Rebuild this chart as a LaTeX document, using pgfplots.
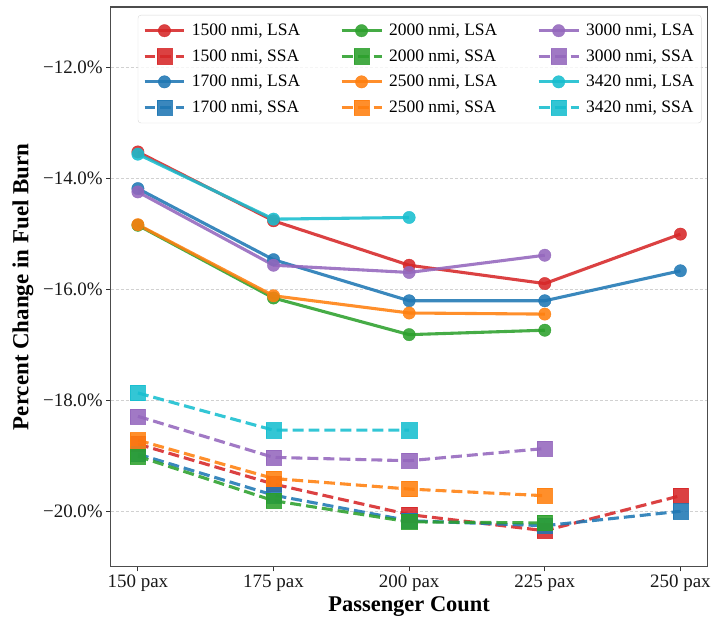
\documentclass[border=0pt]{standalone}
\usepackage{fontspec}
\setmainfont{Liberation Serif}
\usepackage{pgfplots}
\pgfplotsset{compat=1.18}

\definecolor{tred}{HTML}{D62728}
\definecolor{tblue}{HTML}{1F77B4}
\definecolor{tgreen}{HTML}{2CA02C}
\definecolor{torange}{HTML}{FF7F0E}
\definecolor{tpurple}{HTML}{9467BD}
\definecolor{tcyan}{HTML}{17BECF}

\pgfplotsset{
  lsa/.style={line width=3.1pt, opacity=0.88, mark=*, mark size=6.2pt,
    mark options={solid, line width=0.4pt}},
  ssa/.style={line width=3.1pt, opacity=0.88, dash pattern=on 11pt off 5pt,
    mark=square*, mark size=7.6pt, mark options={solid, line width=0.4pt}},
}

\begin{document}
\begin{tikzpicture}
\begin{axis}[
  name=ax,
  scale only axis,
  width=598pt, height=561pt,
  xmin=-0.2, xmax=4.2,
  ymin=-21.0, ymax=-10.92,
  xtick={0,1,2,3,4},
  xticklabels={150 pax,175 pax,200 pax,225 pax,250 pax},
  ytick={-20,-18,-16,-14,-12},
  yticklabels={−20.0\%,−18.0\%,−16.0\%,−14.0\%,−12.0\%},
  tick label style={font=\fontsize{19}{22}\selectfont, black!90},
  tick align=outside,
  xtick pos=left, ytick pos=left,
  major tick length=4.5pt,
  tick style={black!80, line width=0.9pt},
  axis line style={black!70, line width=1.2pt},
  ymajorgrids,
  major grid style={dash pattern=on 3pt off 2pt, black!18, line width=0.7pt},
  xlabel={Passenger Count},
  ylabel={Percent Change in Fuel Burn},
  every axis x label/.style={at={(rel axis cs:0.5,0)}, yshift=-40pt, anchor=center,
    font=\bfseries\fontsize{22.5}{26}\selectfont},
  every axis y label/.style={at={(rel axis cs:0,0.5)}, xshift=-88pt, rotate=90, anchor=center,
    font=\bfseries\fontsize{23}{26}\selectfont},
  legend columns=3,
  legend cell align=left,
  legend image code/.code={%
    \draw[mark repeat=2, mark phase=2] plot coordinates {(0pt,0pt) (20pt,0pt) (40pt,0pt)};},
  legend style={
    at={(rel axis cs:1,1)}, anchor=north east, xshift=-6pt, yshift=-8pt,
    draw=black!15, rounded corners=3pt, fill=white, fill opacity=0.8, text opacity=1,
    font=\fontsize{17.5}{20}\selectfont,
    inner xsep=5pt, inner ysep=7pt,
    row sep=8.5pt,
    /tikz/every odd column/.append style={column sep=4pt},
    /tikz/every even column/.append style={column sep=38pt},
  },
]
% LSA = solid lines with circles, SSA = dashed lines with squares
\addplot[tred, lsa, forget plot] coordinates {(0,-13.53) (1,-14.77) (2,-15.57) (3,-15.90) (4,-15.01)};
\addplot[tred, ssa, forget plot] coordinates {(0,-18.79) (1,-19.51) (2,-20.06) (3,-20.35) (4,-19.72)};
\addplot[tblue, lsa, forget plot] coordinates {(0,-14.19) (1,-15.47) (2,-16.21) (3,-16.21) (4,-15.67)};
\addplot[tblue, ssa, forget plot] coordinates {(0,-18.97) (1,-19.71) (2,-20.17) (3,-20.26) (4,-20.00)};
\addplot[tgreen, lsa, forget plot] coordinates {(0,-14.85) (1,-16.16) (2,-16.82) (3,-16.74)};
\addplot[tgreen, ssa, forget plot] coordinates {(0,-19.01) (1,-19.81) (2,-20.19) (3,-20.21)};
\addplot[torange, lsa, forget plot] coordinates {(0,-14.84) (1,-16.12) (2,-16.43) (3,-16.45)};
\addplot[torange, ssa, forget plot] coordinates {(0,-18.72) (1,-19.41) (2,-19.60) (3,-19.72)};
\addplot[tpurple, lsa, forget plot] coordinates {(0,-14.25) (1,-15.57) (2,-15.70) (3,-15.39)};
\addplot[tpurple, ssa, forget plot] coordinates {(0,-18.29) (1,-19.03) (2,-19.09) (3,-18.87)};
\addplot[tcyan, lsa, forget plot] coordinates {(0,-13.57) (1,-14.74) (2,-14.71)};
\addplot[tcyan, ssa, forget plot] coordinates {(0,-17.87) (1,-18.54) (2,-18.54)};

% legend, filled row by row
\addlegendimage{tred, lsa}\addlegendentry{1500 nmi, LSA}
\addlegendimage{tgreen, lsa}\addlegendentry{2000 nmi, LSA}
\addlegendimage{tpurple, lsa}\addlegendentry{3000 nmi, LSA}
\addlegendimage{tred, ssa}\addlegendentry{1500 nmi, SSA}
\addlegendimage{tgreen, ssa}\addlegendentry{2000 nmi, SSA}
\addlegendimage{tpurple, ssa}\addlegendentry{3000 nmi, SSA}
\addlegendimage{tblue, lsa}\addlegendentry{1700 nmi, LSA}
\addlegendimage{torange, lsa}\addlegendentry{2500 nmi, LSA}
\addlegendimage{tcyan, lsa}\addlegendentry{3420 nmi, LSA}
\addlegendimage{tblue, ssa}\addlegendentry{1700 nmi, SSA}
\addlegendimage{torange, ssa}\addlegendentry{2500 nmi, SSA}
\addlegendimage{tcyan, ssa}\addlegendentry{3420 nmi, SSA}

\coordinate (bbsw) at (rel axis cs:0,0);
\coordinate (bbne) at (rel axis cs:1,1);
\end{axis}
\path ([xshift=-111pt,yshift=-57pt]bbsw) rectangle ([xshift=5pt,yshift=7pt]bbne);
\end{tikzpicture}
\end{document}
